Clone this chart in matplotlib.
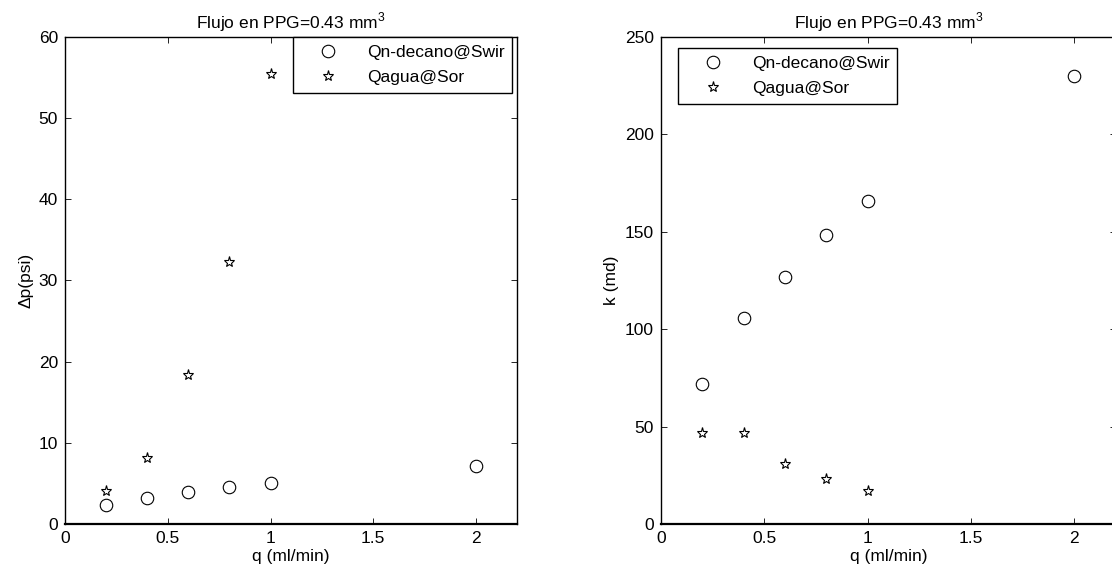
import numpy as np
import matplotlib
matplotlib.use('Agg')
import matplotlib.pyplot as plt

plt.rcParams['font.family'] = ['Liberation Sans', 'DejaVu Sans']
plt.rcParams['font.size'] = 12.5
plt.rcParams['mathtext.fontset'] = 'custom'
plt.rcParams['mathtext.rm'] = 'Liberation Sans'

# caudal (ml/min)
q_decano = [0.2, 0.4, 0.6, 0.8, 1.0, 2.0]
q_agua = [0.2, 0.4, 0.6, 0.8, 1.0]

# caida de presion (psi)
dp_decano = [2.4, 3.2, 4.0, 4.5, 5.0, 7.2]
dp_agua = [4.1, 8.1, 18.3, 32.3, 55.4]

# permeabilidad (md)
k_decano = [72, 105.5, 127, 148.5, 166, 230]
k_agua = [46.5, 46.5, 31, 23, 17]

labels = ['Qn-decano@Swir', 'Qagua@Sor']
titulo = 'Flujo en PPG=0.43 mm$^3$'

fig = plt.figure(figsize=(11.12, 5.75), dpi=100)
ax1 = fig.add_axes([0.0585, 0.0887, 0.4065, 0.847])
ax2 = fig.add_axes([0.5944, 0.0887, 0.409, 0.847])


def style(ax):
    ax.tick_params(direction='in', top=True, right=True, length=4,
                   width=0.6, pad=5, labelsize=12.5)
    for s in ax.spines.values():
        s.set_linewidth(1.0)
    ax.spines['bottom'].set_linewidth(1.6)
    ax.set_xlim(0, 2.2)
    ax.set_xticks([0, 0.5, 1, 1.5, 2])
    ax.set_xticklabels(['0', '0.5', '1', '1.5', '2'])
    ax.set_xlabel('q (ml/min)', labelpad=2)
    ax.set_title(titulo, fontsize=12.5, pad=6)


mk = dict(linestyle='none', markerfacecolor='none', markeredgecolor='black',
          markeredgewidth=0.8)

ax1.plot(q_decano, dp_decano, marker='o', markersize=9, label=labels[0], **mk)
ax1.plot(q_agua, dp_agua, marker='*', markersize=8, label=labels[1], **mk)
style(ax1)
ax1.set_ylim(0, 60)
ax1.set_yticks(np.arange(0, 61, 10))
ax1.set_ylabel('\u0394p(psi)')

ax2.plot(q_decano, k_decano, marker='o', markersize=9, label=labels[0], **mk)
ax2.plot(q_agua, k_agua, marker='*', markersize=8, label=labels[1], **mk)
style(ax2)
ax2.set_ylim(0, 250)
ax2.set_yticks(np.arange(0, 251, 50))
ax2.set_ylabel('k (md)')

leg_kw = dict(loc='upper left', fancybox=False, framealpha=1, edgecolor='black',
              borderpad=0.45, handlelength=3.13, handletextpad=0.68,
              labelspacing=0.58, borderaxespad=0, fontsize=12.5,
              bbox_transform=fig.transFigure)
l1 = ax1.legend(bbox_to_anchor=(0.2635, 0.9357), **leg_kw)
l2 = ax2.legend(bbox_to_anchor=(0.6097, 0.9165), **leg_kw)
for l in (l1, l2):
    l.get_frame().set_linewidth(1.0)

fig.savefig('out.png', dpi=100)
